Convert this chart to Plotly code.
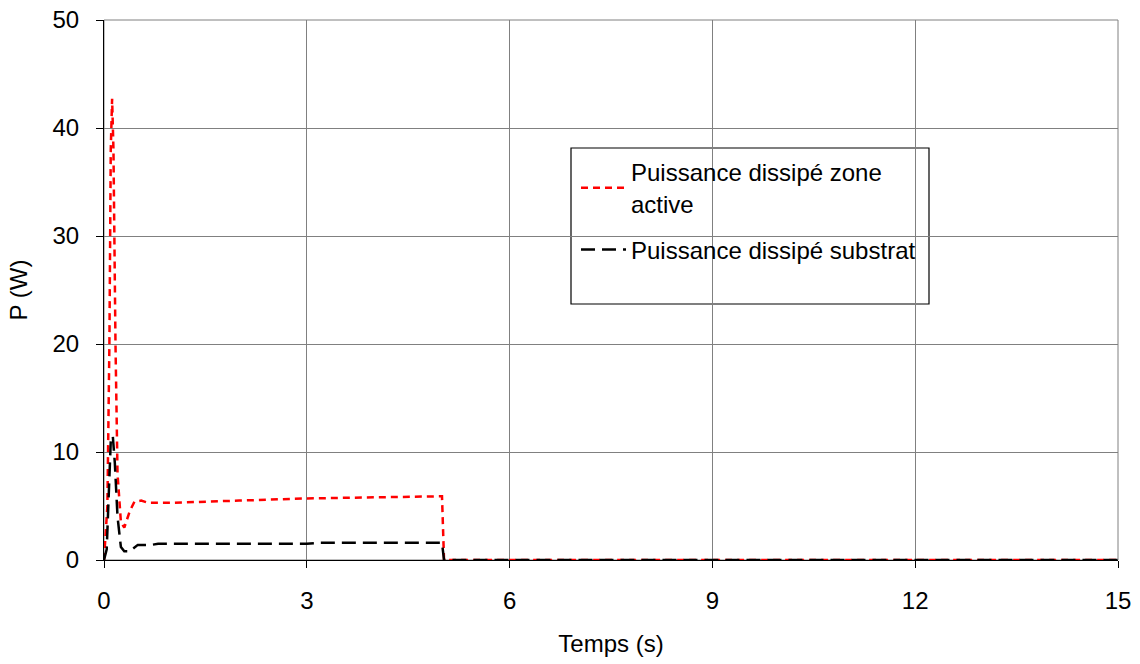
import plotly.graph_objects as go

t_active = [0, 0.05, 0.08, 0.10, 0.12, 0.14, 0.17, 0.20, 0.25, 0.30, 0.38, 0.45, 0.55, 0.65, 0.80, 1.0, 2.0, 3.0, 4.0, 5.0, 5.03, 15]
p_active = [0, 5, 20, 38, 42.7, 38, 20, 8, 3.5, 3.0, 4.5, 5.4, 5.5, 5.3, 5.3, 5.3, 5.5, 5.7, 5.8, 5.9, 0, 0]

t_sub = [0, 0.04, 0.07, 0.10, 0.13, 0.16, 0.20, 0.25, 0.30, 0.38, 0.50, 0.70, 0.80, 1.0, 3.0, 3.2, 5.0, 5.03, 15]
p_sub = [0, 1, 6, 11, 11.5, 9, 4, 1.2, 0.8, 0.8, 1.4, 1.4, 1.5, 1.5, 1.5, 1.6, 1.6, 0, 0]

x_ticks = [0, 3, 6, 9, 12, 15]
y_ticks = [0, 10, 20, 30, 40, 50]

font = "Liberation Sans, Arial, sans-serif"

W, H = 1140, 664
L, T = 104, 20
R = W - 1118
B = H - 560
pw, ph = 1014, 540

fig = go.Figure()
fig.add_trace(go.Scatter(x=t_active, y=p_active, mode="lines",
                         name="Puissance dissipé zone<br>active", legendgroup="a",
                         line=dict(color="#FF0000", width=2.5, dash="7px,5px")))
fig.add_trace(go.Scatter(x=t_sub, y=p_sub, mode="lines",
                         name="Puissance dissipé substrat", legendgroup="b",
                         line=dict(color="#000000", width=2.5, dash="14px,7px")))

fig.update_layout(
    width=W, height=H,
    margin=dict(l=L, r=R, t=T, b=B, autoexpand=False),
    paper_bgcolor="white", plot_bgcolor="white",
    font=dict(family=font, size=24, color="black"),
    showlegend=True,
    legend=dict(x=(576 - 104) / pw, y=(560 - 150) / ph, xanchor="left", yanchor="top",
                bgcolor="rgba(0,0,0,0)", borderwidth=0,
                font=dict(size=24, family=font), tracegroupgap=12,
                itemwidth=45),
    xaxis=dict(range=[0, 15], tickvals=x_ticks, ticktext=[str(v) for v in x_ticks],
               showgrid=True, gridcolor="#808080", gridwidth=1,
               showline=True, linecolor="black", linewidth=1, mirror=False,
               ticks="outside", ticklen=7, tickcolor="black", ticklabelstandoff=12,
               ticklabeloverflow="allow", automargin=False,
               zeroline=False, title=dict(text="Temps (s)", standoff=22, font=dict(size=24)),
               tickfont=dict(size=24)),
    yaxis=dict(range=[0, 50], tickvals=y_ticks, ticktext=[str(v) for v in y_ticks],
               showgrid=True, gridcolor="#808080", gridwidth=1,
               showline=True, linecolor="black", linewidth=1,
               ticks="outside", ticklen=7, tickcolor="black", ticklabelstandoff=12,
               ticklabeloverflow="allow", automargin=False,
               zeroline=False, title=dict(text="P (W)", standoff=18, font=dict(size=24)),
               tickfont=dict(size=24)),
    shapes=[
        dict(type="rect", xref="paper", yref="paper",
             x0=0, x1=1, y0=0, y1=1, line=dict(color="#808080", width=1), layer="below"),
        dict(type="rect", xref="paper", yref="paper",
             x0=(571 - 104) / pw, x1=(929 - 104) / pw,
             y0=(560 - 304) / ph, y1=(560 - 148) / ph,
             line=dict(color="black", width=1.2), fillcolor="white", layer="below"),
    ],
)

fig.write_html("out.html",
               config={"displayModeBar": False},
               post_script="document.body.style.margin='0';document.body.style.overflow='hidden';")
